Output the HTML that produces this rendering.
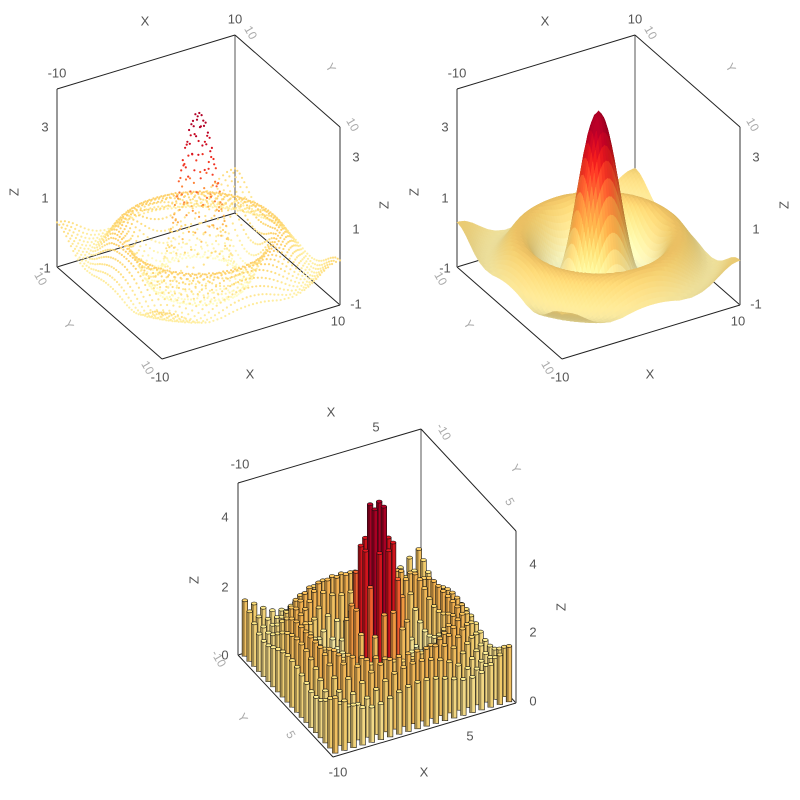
<!DOCTYPE html>
<html><head><meta charset="utf-8">
<style>
html,body{margin:0;padding:0;background:#fff;}
svg{display:block;font-family:"Liberation Sans",sans-serif;}
.t{font-size:13px;fill:#555;}
.g{font-size:12px;fill:#aaa;}
</style></head>
<body>
<svg id="chart" width="800" height="800" viewBox="0 0 800 800">
<g id="p1"></g>
<g id="p2"></g>
<g id="p3"></g>
</svg>
<script>
// radial profile of z (r = 0, 0.5, 1, ... 14.5)
const radiusSamples = [0,0.5,1,1.5,2,2.5,3,3.5,4,4.5,5,5.5,6,6.5,7,7.5,8,8.5,9,9.5,10,10.5,11,11.5,12,12.5,13,13.5,14,14.5];
const profileZ = [4.00,3.84,3.37,2.66,1.82,0.96,0.19,-0.40,-0.76,-0.87,-0.77,-0.51,-0.19,0.13,0.38,0.50,0.49,0.38,0.18,-0.03,-0.22,-0.34,-0.36,-0.30,-0.18,-0.02,0.13,0.24,0.28,0.26];
const barOffset = [1.4];
const xTickLabels = ["-10","10"];
const zTickLabelsTop = ["3","1","-1"];
const zTickLabelsBar = ["4","2","0"];

const NS="http://www.w3.org/2000/svg";
function zAt(x,y){
  const r=Math.sqrt(x*x+y*y);
  for(let i=0;i<radiusSamples.length-1;i++){
    if(r<=radiusSamples[i+1]){
      const f=(r-radiusSamples[i])/(radiusSamples[i+1]-radiusSamples[i]);
      return profileZ[i]*(1-f)+profileZ[i+1]*f;
    }
  }
  return profileZ[profileZ.length-1];
}
const stops=['#ffffcc','#ffeda0','#fed976','#feb24c','#fd8d3c','#fc4e2a','#e31a1c','#bd0026','#800026'].map(h=>[parseInt(h.substr(1,2),16),parseInt(h.substr(3,2),16),parseInt(h.substr(5,2),16)]);
function cmap(t){
  t=Math.max(0,Math.min(0.9,t))*(stops.length-1);
  const i=Math.min(stops.length-2,Math.floor(t)),f=t-i;
  return stops[i].map((c,k)=>c*(1-f)+stops[i+1][k]*f);
}
function rgb(c,s){s=s||1;return 'rgb('+c.map(v=>Math.round(Math.max(0,Math.min(255,v*s)))).join(',')+')';}
function mk(parent,tag,attrs){const e=document.createElementNS(NS,tag);for(const k in attrs)e.setAttribute(k,attrs[k]);parent.appendChild(e);return e;}

function makeProj(P){
  return function(x,y,z){
    const u=(x+10)/20,v=(y+10)/20,w=(z-P.zmin)/(P.zmax-P.zmin);
    return [P.F[0]+u*P.dx[0]+v*P.dy[0], P.F[1]+u*P.dx[1]+v*P.dy[1]-w*P.H];
  };
}
function line(g,a,b,col,wd,name){
  const e=mk(g,'line',{x1:a[0],y1:a[1],x2:b[0],y2:b[1],stroke:col,'stroke-width':wd});
  
  
}
function text(g,x,y,s,cls,rot,name){
  const e=mk(g,'text',{x:x,y:y,'class':cls,'text-anchor':'middle','dominant-baseline':'middle'});
  if(rot)e.setAttribute('transform','rotate('+rot+' '+x+' '+y+')');
  e.textContent=s;
  
  
}
function boxBack(g,pr,P){
  const zl=P.zmin,zh=P.zmax;
  line(g,pr(-10,10,zl),pr(10,10,zl),'#222',1,'box-edge');
  line(g,pr(10,10,zl),pr(10,-10,zl),'#222',1,'box-edge');
  line(g,pr(-10,10,zl),pr(-10,10,zh),'#777',1.5,'z-axis-left');
  line(g,pr(10,10,zl),pr(10,10,zh),'#555',1,'box-edge');
  line(g,pr(10,-10,zl),pr(10,-10,zh),'#777',1.5,'z-axis-right');
  line(g,pr(-10,10,zh),pr(10,10,zh),'#222',1,'box-edge');
  line(g,pr(10,10,zh),pr(10,-10,zh),'#222',1,'box-edge');
}
function boxFront(g,pr,P){
  line(g,pr(-10,10,P.zmin),pr(-10,-10,P.zmin),'#222',1,'y-axis');
  line(g,pr(-10,-10,P.zmin),pr(10,-10,P.zmin),'#222',1,'x-axis');
}
function labelsTop(g,ox){
  text(g,ox+57,74,'-10','t',0,'x-tick-top');
  text(g,ox+235,20,'10','t',0,'x-tick-top');
  text(g,ox+145,22,'X','t',0,'x-axis-title-top');
  text(g,ox+160,378,xTickLabels[0],'t',0,'x-tick');
  text(g,ox+338,322,xTickLabels[1],'t',0,'x-tick');
  text(g,ox+250,375,'X','t',0,'x-axis-title');
  const zy=[128,199,269];
  zTickLabelsTop.forEach((s,i)=>text(g,ox+45,zy[i],s,'t',0,'z-tick-left'));
  const zr=[158,230,305];
  zTickLabelsTop.forEach((s,i)=>text(g,ox+356,zr[i],s,'t',0,'z-tick-right'));
  text(g,ox+15,192,'Z','t',-90,'z-axis-title-left');
  text(g,ox+385,205,'Z','t',-90,'z-axis-title-right');
  text(g,ox+250,33,'10','g',60,'y-tick');
  text(g,ox+330,68,'Y','g',60,'y-axis-title');
  text(g,ox+352,125,'10','g',60,'y-tick');
  text(g,ox+40,279,'10','g',60,'y-tick');
  text(g,ox+147,368,'10','g',60,'y-tick');
  text(g,ox+68,325,'Y','g',60,'y-axis-title');
}

// ---- panel 1: scatter
(function(){
  const P={F:[162,359],dx:[178,-54],dy:[-105,-92],zmin:-1,zmax:4.09,H:178};
  const pr=makeProj(P), g=document.getElementById('p1');
  boxBack(g,pr,P);
  const n=46, pts=[];
  for(let i=0;i<n;i++)for(let j=0;j<n;j++){
    const x=-10+20*i/(n-1), y=-10+20*j/(n-1), z=zAt(x,y);
    pts.push([x,y,z,pr(x,y,-1)[1]]);
  }
  pts.sort((a,b)=>a[3]-b[3]);
  pts.forEach(p=>{
    const s=pr(p[0],p[1],p[2]);
    const c=mk(g,'circle',{cx:s[0].toFixed(1),cy:s[1].toFixed(1),r:1.1,fill:rgb(cmap((p[2]+0.87)/4.87,0.97))});
    
    
  });
  boxFront(g,pr,P);
  labelsTop(g,0);
})();

// ---- panel 2: surface
(function(){
  const P={F:[562,359],dx:[178,-54],dy:[-105,-92],zmin:-1,zmax:4.09,H:178};
  const pr=makeProj(P), g=document.getElementById('p2');
  boxBack(g,pr,P);
  const n=70, h=20/n, quads=[];
  const L=[-1,-1,1.3], ln=Math.hypot(...L);
  for(let i=0;i<n;i++)for(let j=0;j<n;j++){
    const x0=-10+i*h,y0=-10+j*h,x1=x0+h,y1=y0+h;
    const z00=zAt(x0,y0),z10=zAt(x1,y0),z11=zAt(x1,y1),z01=zAt(x0,y1);
    const zc=(z00+z10+z11+z01)/4;
    const ku=(20/5.09)*0.95;
    const gu=((z10+z11)-(z00+z01))/2/h*ku/20;
    const gv=((z01+z11)-(z00+z10))/2/h*ku/20;
    const nx=-gu*5,ny=-gv*5,nz=1, nn=Math.hypot(nx,ny,nz);
    const d=(nx*L[0]+ny*L[1]+nz*L[2])/(nn*ln);
    quads.push({pts:[pr(x0,y0,z00),pr(x1,y0,z10),pr(x1,y1,z11),pr(x0,y1,z01)],zc:zc,d:d,key:pr((x0+x1)/2,(y0+y1)/2,-1)[1]});
  }
  quads.sort((a,b)=>a.key-b.key);
  quads.forEach(q=>{
    const col=rgb(cmap((q.zc+0.87)/4.87),0.62+0.45*Math.max(0,q.d));
    const e=mk(g,'polygon',{points:q.pts.map(p=>p[0].toFixed(1)+','+p[1].toFixed(1)).join(' '),fill:col,stroke:col,'stroke-width':0.6});
    
    
  });
  boxFront(g,pr,P);
  labelsTop(g,400);
})();

// ---- panel 3: bars
(function(){
  const P={F:[333,757],dx:[183,-54],dy:[-95,-102],zmin:0,zmax:5,H:172};
  const pr=makeProj(P), g=document.getElementById('p3');
  boxBack(g,pr,P);
  const n=20, bars=[];
  for(let i=0;i<n;i++)for(let j=0;j<n;j++){
    const x=-9.5+19*i/(n-1), y=-9.5+19*j/(n-1);
    const hgt=zAt(x,y)+barOffset[0];
    bars.push([x,y,hgt,pr(x,y,0)[1]]);
  }
  bars.sort((a,b)=>a[3]-b[3]);
  const w=5.6;
  bars.forEach(b=>{
    const p0=pr(b[0],b[1],0), pt=pr(b[0],b[1],b[2]);
    const c=cmap((b[2]-0.2)/4.8);
    const bg=mk(g,'g',{});
    
    
    mk(bg,'rect',{x:(p0[0]-w/2).toFixed(1),y:pt[1].toFixed(1),width:w,height:(p0[1]-pt[1]).toFixed(1),fill:rgb(c,0.95),stroke:'#111','stroke-width':0.6});
    mk(bg,'rect',{x:(p0[0]-w/2+0.3).toFixed(1),y:pt[1].toFixed(1),width:w*0.4,height:(p0[1]-pt[1]).toFixed(1),fill:rgb(c,0.62)});
    mk(bg,'ellipse',{cx:pt[0].toFixed(1),cy:pt[1].toFixed(1),rx:w/2,ry:1.5,fill:rgb(c,1.05),stroke:'#111','stroke-width':0.6});
  });
  boxFront(g,pr,P);
  text(g,240,465,'-10','t',0,'x-tick-top');
  text(g,376,428,'5','t',0,'x-tick-top');
  text(g,331,413,'X','t',0,'x-axis-title-top');
  text(g,443,432,'-10','g',60,'y-tick');
  text(g,515,469,'Y','g',60,'y-axis-title');
  text(g,509,502,'5','g',60,'y-tick');
  const zl=[518,588,656];
  zTickLabelsBar.forEach((s,i)=>text(g,225,zl[i],s,'t',0,'z-tick-left'));
  const zr=[565,633,702];
  zTickLabelsBar.forEach((s,i)=>text(g,533,zr[i],s,'t',0,'z-tick-right'));
  text(g,195,580,'Z','t',-90,'z-axis-title-left');
  text(g,562,607,'Z','t',-90,'z-axis-title-right');
  text(g,338,773,'-10','t',0,'x-tick');
  text(g,470,737,'5','t',0,'x-tick');
  text(g,424,773,'X','t',0,'x-axis-title');
  text(g,218,659,'-10','g',60,'y-tick');
  text(g,242,718,'Y','g',60,'y-axis-title');
  text(g,290,735,'5','g',60,'y-tick');
})();
</script>
</body></html>
